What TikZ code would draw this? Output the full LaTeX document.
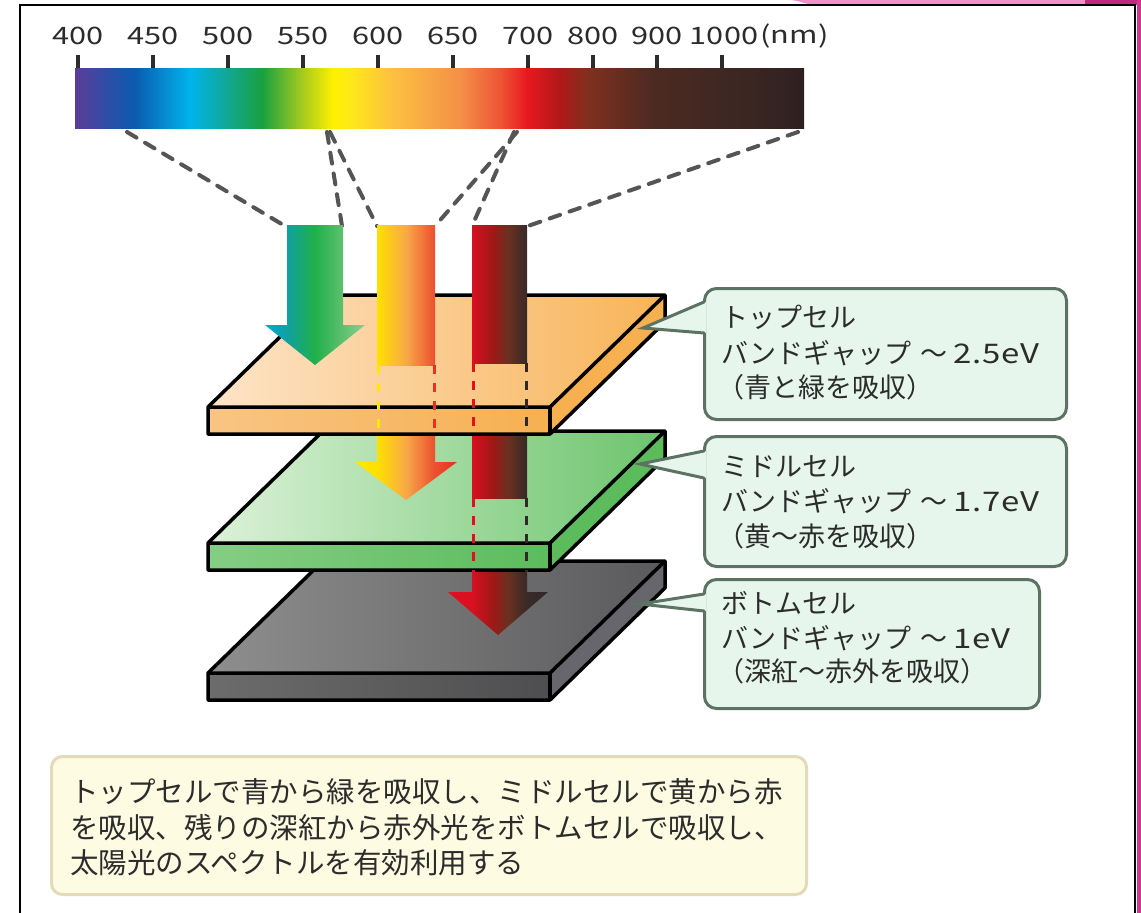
\documentclass[tikz,border=0pt]{standalone}
\usepackage{fontspec}
\setmainfont{Noto Sans CJK JP}
\newfontfamily\jpfont{Noto Sans CJK JP}
\newfontfamily\numfont[FakeStretch=1.28]{Noto Sans CJK JP}
\newfontfamily\evfont[FakeStretch=1.22, LetterSpace=3]{Noto Sans CJK JP}

% spectrum colours
\definecolor{sp0}{HTML}{5B3D99}
\definecolor{sp1}{HTML}{2A4FA8}
\definecolor{sp2}{HTML}{0A5CB0}
\definecolor{sp3}{HTML}{00B4EC}
\definecolor{sp4}{HTML}{10A898}
\definecolor{sp5}{HTML}{1AA040}
\definecolor{sp6}{HTML}{A0C820}
\definecolor{sp7}{HTML}{FFF000}
\definecolor{sp8}{HTML}{FFE818}
\definecolor{sp9}{HTML}{FCC040}
\definecolor{sp10}{HTML}{F49048}
\definecolor{sp11}{HTML}{EE5535}
\definecolor{sp12}{HTML}{E81820}
\definecolor{sp13}{HTML}{B01818}
\definecolor{sp14}{HTML}{80301E}
\definecolor{sp15}{HTML}{4C2A22}
\definecolor{sp16}{HTML}{3A2622}
\definecolor{sp17}{HTML}{2E2020}

\pgfdeclarehorizontalshading{spectrum}{100bp}{%
 color(0bp)=(sp0); color(25bp)=(sp0); color(27.4bp)=(sp1); color(29.1bp)=(sp2);
 color(32.9bp)=(sp3); color(35.3bp)=(sp4); color(37.85bp)=(sp5); color(40.45bp)=(sp6);
 color(42.7bp)=(sp7); color(43.85bp)=(sp8); color(46.8bp)=(sp9); color(51.4bp)=(sp10);
 color(54.15bp)=(sp11); color(56bp)=(sp12); color(58.25bp)=(sp13); color(60.1bp)=(sp14);
 color(64.65bp)=(sp15); color(71.5bp)=(sp16); color(75bp)=(sp17); color(100bp)=(sp17)}

% arrow colours
\definecolor{ga0}{HTML}{00A8D8}
\definecolor{ga1}{HTML}{10A0A0}
\definecolor{ga2}{HTML}{20B048}
\definecolor{ga3}{HTML}{60C070}
\definecolor{ga4}{HTML}{88D090}
\pgfdeclarehorizontalshading{greenarrow}{100bp}{%
 color(0bp)=(ga0); color(25bp)=(ga0); color(36bp)=(ga1); color(50bp)=(ga2);
 color(64bp)=(ga3); color(75bp)=(ga4); color(100bp)=(ga4)}

\definecolor{ya0}{HTML}{FFE800}
\definecolor{ya1}{HTML}{FFE000}
\definecolor{ya2}{HTML}{F8A848}
\definecolor{ya3}{HTML}{EC5030}
\definecolor{ya4}{HTML}{E83020}
\pgfdeclarehorizontalshading{yellowarrow}{100bp}{%
 color(0bp)=(ya0); color(25bp)=(ya0); color(36bp)=(ya1); color(50bp)=(ya2);
 color(64bp)=(ya3); color(75bp)=(ya4); color(100bp)=(ya4)}

\definecolor{da0}{HTML}{E01020}
\definecolor{da1}{HTML}{D81020}
\definecolor{da2}{HTML}{A01818}
\definecolor{da3}{HTML}{6A3020}
\definecolor{da4}{HTML}{3A2A28}
\definecolor{da5}{HTML}{302828}
\pgfdeclarehorizontalshading{darkarrow}{100bp}{%
 color(0bp)=(da0); color(25bp)=(da0); color(37bp)=(da1); color(47bp)=(da2);
 color(55bp)=(da3); color(64bp)=(da4); color(75bp)=(da5); color(100bp)=(da5)}

% plates
\definecolor{orA}{HTML}{FDE4C8}
\definecolor{orB}{HTML}{F8B458}
\definecolor{orC}{HTML}{F9C484}
\definecolor{orD}{HTML}{F6B050}
\definecolor{grA}{HTML}{DCF2D8}
\definecolor{grB}{HTML}{6CC46C}
\definecolor{grC}{HTML}{84CE84}
\definecolor{grD}{HTML}{5CBC5C}
\definecolor{gyA}{HTML}{8E8E8E}
\definecolor{gyB}{HTML}{5A5A5C}
\definecolor{gyC}{HTML}{6C6C6C}
\definecolor{gyD}{HTML}{4E4E50}
\definecolor{gyE}{HTML}{66666C}

\definecolor{dashgray}{HTML}{555555}
\definecolor{boxfill}{HTML}{E6F6EC}
\definecolor{boxline}{HTML}{5C7262}
\definecolor{notefill}{HTML}{FDFBE2}
\definecolor{noteline}{HTML}{E2DAB8}
\definecolor{inktext}{HTML}{2C2C2C}
\definecolor{pinklight}{HTML}{F090C8}
\definecolor{pinkdark}{HTML}{C02880}
\definecolor{pinkside}{HTML}{D03890}

\tikzset{
  plateline/.style={draw=black, line width=3.5pt, line join=round},
  specdash/.style={draw=dashgray, line width=4pt, line cap=round, dash pattern=on 11pt off 10pt},
  thrudash/.style={line width=3pt, dash pattern=on 9pt off 9pt},
  ticklab/.style={font=\numfont\fontsize{24pt}{24pt}\selectfont, text=inktext, inner sep=0pt},
  calloutbox/.style={draw=boxline, fill=boxfill, line width=3pt, rounded corners=12pt, inner sep=0pt},
  notebox/.style={draw=noteline, fill=notefill, line width=3pt, rounded corners=11pt, inner sep=0pt},
  cline/.style={font=\jpfont\fontsize{27pt}{27pt}\selectfont, text=inktext, inner sep=0pt, anchor=west},
  nline/.style={font=\jpfont\fontsize{28.5pt}{28.5pt}\selectfont, text=inktext, inner sep=0pt, anchor=west},
  wedge/.style={draw=boxline, line width=3pt, line cap=round}
}

% pieces of the three light arrows, clipped to a band of heights
\newcommand\greenarrowpart[2]{\begin{scope}\clip (200,#1) rectangle (700,#2);
 \shade[shading=greenarrow] (287,225) -- (343,225) -- (343,325) -- (365,325) -- (315,365) -- (265,325) -- (287,325) -- cycle;\end{scope}}
\newcommand\yellowarrowpart[2]{\begin{scope}\clip (200,#1) rectangle (700,#2);
 \shade[shading=yellowarrow] (377,225) -- (435,225) -- (435,462) -- (457,462) -- (406,500) -- (355,462) -- (377,462) -- cycle;\end{scope}}
\newcommand\darkarrowpart[2]{\begin{scope}\clip (200,#1) rectangle (700,#2);
 \shade[shading=darkarrow] (472,225) -- (527,225) -- (527,592) -- (548,592) -- (498,635) -- (448,592) -- (472,592) -- cycle;\end{scope}}

% one plate: front-left top corner y, then the colours of its faces
\newcommand\plate[6]{%
 \shade[left color=#2, right color=#3] (208,#1) -- (323,#1-112) -- (665,#1-112) -- (550,#1) -- cycle;
 \shade[left color=#4, right color=#5] (208,#1) rectangle (550,#1+27);
 \fill[#6] (550,#1) -- (665,#1-112) -- (665,#1-85) -- (550,#1+27) -- cycle;
 \draw[plateline] (208,#1) -- (323,#1-112) -- (665,#1-112) -- (665,#1-85) -- (550,#1+27) -- (208,#1+27) -- cycle;
 \draw[plateline] (208,#1) -- (550,#1) -- (665,#1-112);
 \draw[plateline] (550,#1) -- (550,#1+27);}

% band gap line: katakana, wave dash and the value
\newcommand\gapline[1]{バンドギャップ\hspace{9pt}～\hspace{6pt}{\evfont\fontsize{27pt}{27pt}\selectfont #1}}

\begin{document}
\begin{tikzpicture}[x=1pt, y=-1pt]
\useasboundingbox (0,0) rectangle (1141,913);
\fill[white] (0,0) rectangle (1141,913);

% page edge decorations
\fill[pinklight] (788,0) .. controls (800,0) and (806,5) .. (816,5) -- (1141,5) -- (1141,0) -- cycle;
\fill[pinkdark] (1085,0) rectangle (1141,5);
\fill[pinkside] (1137,0) rectangle (1141,913);
\draw[line width=2.5pt] (20,913) -- (20,5) -- (1135,5) -- (1135,913);

% wavelength scale
\foreach \x/\t/\n in {78/400/l1, 153/450/l2, 228/500/l3, 303/550/l4, 378/600/l5, 453/650/l6, 528/700/l7, 593/800/l8, 657/900/l9}{
  \node[ticklab] (\n) at (\x,36) {\t};
  \draw[line width=4pt, draw=inktext] (\x,55) -- (\x,69);
}
\node[ticklab] (l10) at (724,36) {1000};
\draw[line width=4pt, draw=inktext] (722,55) -- (722,69);
\node[ticklab, anchor=west] (nm) at ([xshift=2pt]l10.east) {(nm)};
\shade[shading=spectrum] (75,68) rectangle (804,128);

% connector end points
\coordinate (s1) at (127,132);
\coordinate (s2) at (327,132);
\coordinate (s3) at (330,132);
\coordinate (s4) at (517,132);
\coordinate (s5) at (514,132);
\coordinate (s6) at (798,132);
\coordinate (g-tl) at (285,226);
\coordinate (g-tr) at (342,226);
\coordinate (y-tl) at (377,226);
\coordinate (y-tr) at (435,226);
\coordinate (d-tl) at (472,226);
\coordinate (d-tr) at (528,226);
\draw[specdash] (s1) -- (g-tl);
\draw[specdash] (s2) -- (g-tr);
\draw[specdash] (s3) -- (y-tl);
\draw[specdash] (s4) -- (y-tr);
\draw[specdash] (s5) -- (d-tl);
\draw[specdash] (s6) -- (d-tr);

% bottom cell and the ray that reaches it
\plate{673}{gyA}{gyB}{gyC}{gyD}{gyE}
\darkarrowpart{560}{640}

% middle cell
\plate{543}{grA}{grB}{grC}{grD}{grD}
\yellowarrowpart{420}{505}
\darkarrowpart{420}{498}
\draw[thrudash, draw=da0] (473,498) -- (473,572);
\draw[thrudash, draw=da5] (526,498) -- (526,572);

% top cell
\plate{407}{orA}{orB}{orC}{orD}{orD}
\greenarrowpart{220}{370}
\yellowarrowpart{220}{365}
\darkarrowpart{220}{363}
\draw[thrudash, draw=ya0] (378,365) -- (378,433);
\draw[thrudash, draw=ya4] (434,365) -- (434,433);
\draw[thrudash, draw=da0] (473,363) -- (473,433);
\draw[thrudash, draw=da5] (526,363) -- (526,433);

% callouts
\node[calloutbox, minimum width=362pt, minimum height=131pt, anchor=north west] (ctop) at (703,287) {};
\node[calloutbox, minimum width=362pt, minimum height=130pt, anchor=north west] (cmid) at (703,435) {};
\node[calloutbox, minimum width=335pt, minimum height=129pt, anchor=north west] (cbot) at (703,578) {};

\coordinate (ptop) at (643,328);
\coordinate (pmid) at (640,464);
\coordinate (pbot) at (640,604);
\fill[boxfill] (706,302) -- (ptop) -- (706,333) -- cycle;
\draw[wedge] (704,302) -- (ptop) -- (704,333);
\fill[boxfill] (706,451) -- (pmid) -- (706,478) -- cycle;
\draw[wedge] (704,451) -- (pmid) -- (704,478);
\fill[boxfill] (706,594) -- (pbot) -- (706,611) -- cycle;
\draw[wedge] (704,594) -- (pbot) -- (704,611);

\node[cline] (ta) at (721,317) {トップセル};
\node[cline] (tb) at (721,353) {\gapline{2.5eV}};
\node[cline] (tc) at (717,387) {（青と緑を吸収）};
\node[cline] (ma) at (721,467) {ミドルセル};
\node[cline] (mb) at (721,501) {\gapline{1.7eV}};
\node[cline] (mc) at (717,536) {（黄～赤を吸収）};
\node[cline] (ba) at (721,603) {ボトムセル};
\node[cline] (bb) at (721,638) {\gapline{1eV}};
\node[cline] (bc) at (717,671) {（深紅～赤外を吸収）};

% summary note
\node[notebox, minimum width=755pt, minimum height=138pt, anchor=north west] (note) at (50,755) {};
\node[nline] (n1) at (70,792) {トップセルで青から緑を吸収し、ミドルセルで黄から赤};
\node[nline] (n2) at (70,828) {を吸収、残りの深紅から赤外光をボトムセルで吸収し、};
\node[nline] (n3) at (70,863) {太陽光のスペクトルを有効利用する};
\end{tikzpicture}
\end{document}
